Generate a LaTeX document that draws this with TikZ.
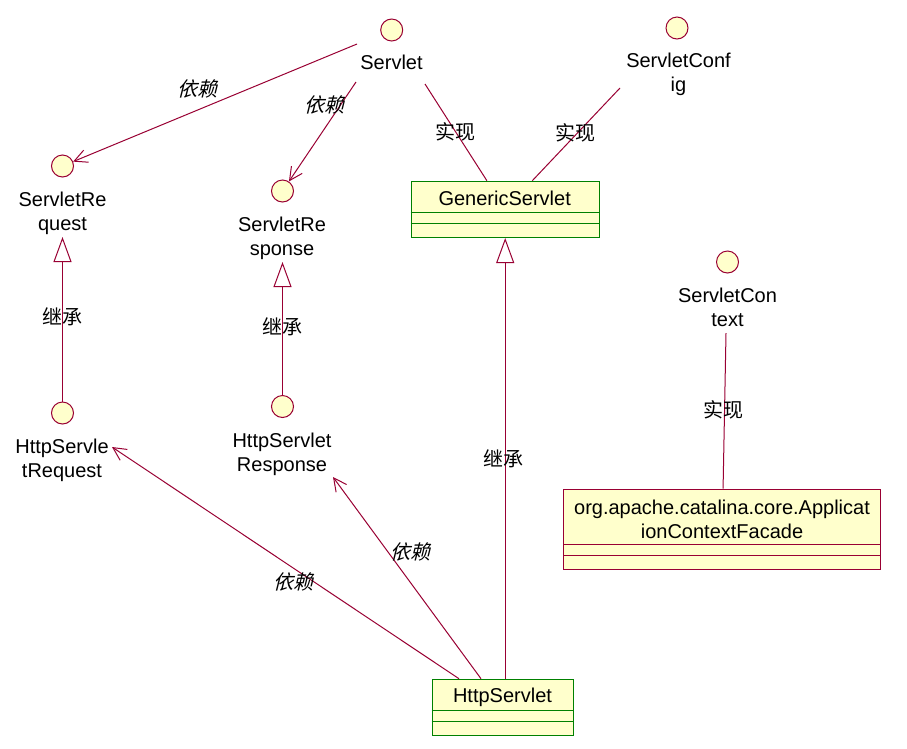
\documentclass[tikz,border=0pt]{standalone}
\usepackage{fontspec}
\setmainfont{Liberation Sans}
\newfontfamily\cjk{Noto Sans CJK SC}
\newfontfamily\cjkit[FakeSlant=0.25]{Noto Sans CJK SC}
\usetikzlibrary{arrows.meta,calc}
\definecolor{crim}{RGB}{153,0,51}
\definecolor{rgreen}{RGB}{0,128,0}
\definecolor{ifill}{RGB}{255,255,204}
\begin{document}
\begin{tikzpicture}[x=1pt,y=-1pt,
  iface/.style={circle,draw=crim,fill=ifill,line width=1pt,minimum size=22pt,inner sep=0pt},
  lbl/.style={anchor=north,inner sep=0pt,align=center,font=\fontsize{20}{24}\selectfont},
  cls/.style={draw=#1,fill=ifill,line width=1pt,inner sep=0pt,anchor=north west},
  conn/.style={draw=crim,line width=1pt},
  dep/.style={conn,-{Straight Barb[length=13pt,width=13pt]}},
  gen/.style={conn,-{Triangle[length=25pt,width=18pt,fill=white]}},
  clbl/.style={font=\cjk\fontsize{20}{20}\selectfont,inner sep=0pt},
  dlbl/.style={font=\cjkit\fontsize{20}{20}\selectfont,inner sep=0pt},
]
\fill[white] (0,0) rectangle (907,748);
\useasboundingbox (0,0) rectangle (907,748);

% interfaces
\node[iface] (c_servlet) at (391.7,30) {};
\node[lbl] (l_servlet) at (391.5,55) {Servlet};
\node[iface] (c_sconf) at (677,28) {};
\node[lbl] (l_sconf) at (678.5,53) {ServletConf\\ig};
\node[iface] (c_sreq) at (62.5,166) {};
\node[lbl] (l_sreq) at (62.5,192) {ServletRe\\quest};
\node[iface] (c_sresp) at (282.5,191) {};
\node[lbl] (l_sresp) at (282,217) {ServletRe\\sponse};
\node[iface] (c_sctx) at (727.5,262) {};
\node[lbl] (l_sctx) at (727.5,288) {ServletCon\\text};
\node[iface] (c_hsreq) at (62.5,413) {};
\node[lbl] (l_hsreq) at (62,439) {HttpServle\\tRequest};
\node[iface] (c_hsresp) at (282.5,406.5) {};
\node[lbl] (l_hsresp) at (282,433) {HttpServlet\\Response};

% classes
\node[cls=rgreen,minimum width=188pt,minimum height=56.3pt] (generic) at (410.7,180.7) {};
\draw[rgreen,line width=1pt] (410.7,212.3) -- (598.7,212.3) (410.7,223) -- (598.7,223);
\node[lbl] (n_generic) at (504.7,190.5) {GenericServlet};

\node[cls=rgreen,minimum width=141.6pt,minimum height=56.3pt] (hs) at (431.7,678.7) {};
\draw[rgreen,line width=1pt] (431.7,710.7) -- (573.3,710.7) (431.7,721.3) -- (573.3,721.3);
\node[lbl] (n_hs) at (502.5,688) {HttpServlet};

\node[cls=crim,minimum width=317pt,minimum height=80.3pt] (facade) at (563.3,488.7) {};
\draw[crim,line width=1pt] (563.3,544.7) -- (880.3,544.7) (563.3,555.3) -- (880.3,555.3);
\node[lbl] (n_facade) at (722,500) {org.apache.catalina.core.Applicat\\ionContextFacade};

% connectors
\coordinate (s1) at (357,44);
\coordinate (s2) at (356,82);
\coordinate (s3) at (425,84);
\coordinate (s4) at (620,88);
\coordinate (s5) at (726,333);
\coordinate (t1) at (62.5,237);
\coordinate (t2) at (282.5,262);
\coordinate (t3) at (112,447);
\coordinate (t4) at (333,477);

\draw[dep] (s1) -- (c_sreq);
\draw[dep] (s2) -- (c_sresp);
\draw[conn] (s3) -- (generic);
\draw[conn] (s4) -- (generic);
\draw[conn] (s5) -- (facade);
\draw[gen] (c_hsreq) -- (t1);
\draw[gen] (c_hsresp) -- (t2);
\draw[gen] (hs.north -| generic.south) -- (generic.south);
\draw[dep] ($(hs.north west)+(27.3,0)$) -- (t3);
\draw[dep] ($(hs.north west)+(49.3,0)$) -- (t4);

% connector labels
\node[dlbl] (d1) at (197,89) {依赖};
\node[dlbl] (d2) at (324,105) {依赖};
\node[dlbl] (d3) at (293,582) {依赖};
\node[dlbl] (d4) at (410,552) {依赖};
\node[clbl] (r1) at (455,132) {实现};
\node[clbl] (r2) at (575,133) {实现};
\node[clbl] (r3) at (723,410) {实现};
\node[clbl] (g1) at (62,317) {继承};
\node[clbl] (g2) at (282,327) {继承};
\node[clbl] (g3) at (503,459) {继承};
\end{tikzpicture}
\end{document}
